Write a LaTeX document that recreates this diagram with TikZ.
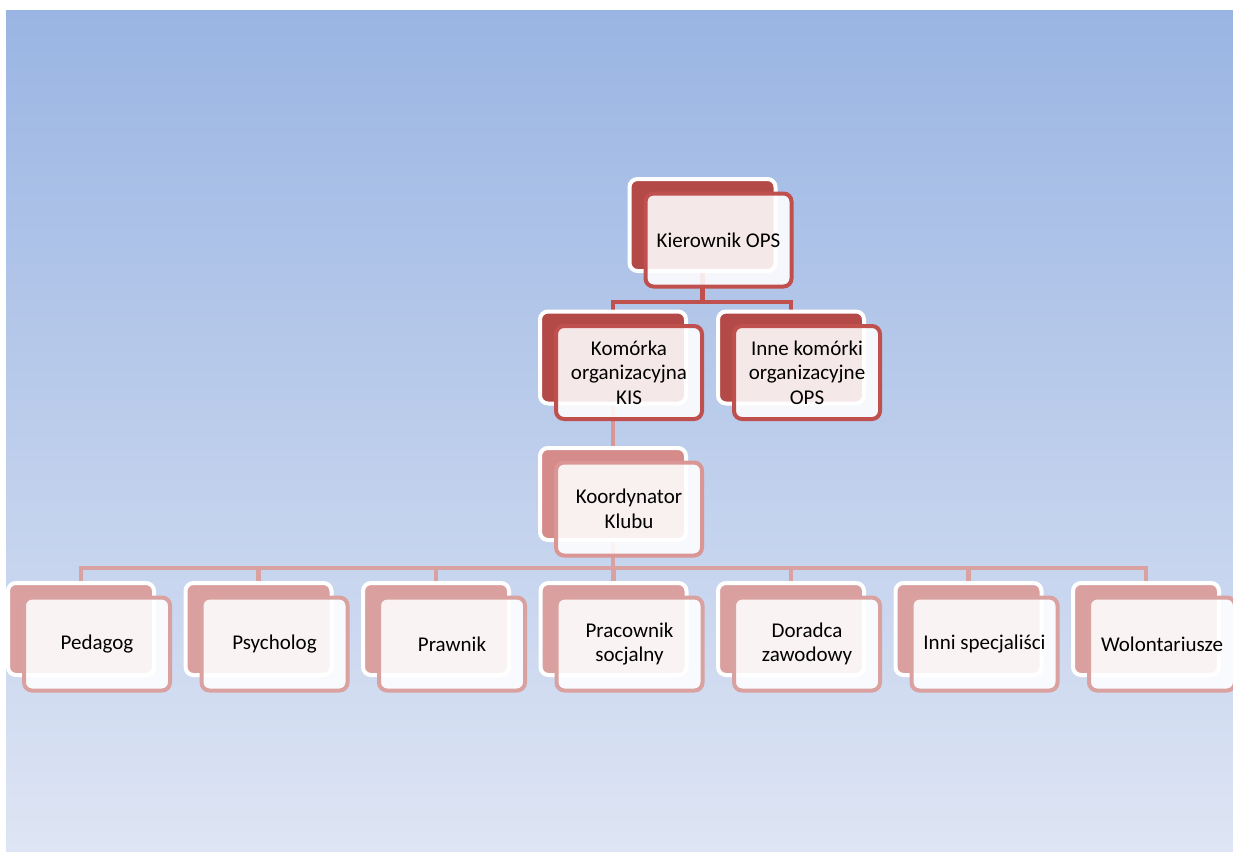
\documentclass[tikz,border=0pt]{standalone}
\usepackage{fontspec}
\setmainfont{Carlito}
\usetikzlibrary{calc}
\pgfdeclarelayer{bgl}
\pgfdeclarelayer{lines}
\pgfsetlayers{bgl,lines,main}
\definecolor{bgtop}{HTML}{9AB5E3}
\definecolor{bgbot}{HTML}{DEE5F4}
\definecolor{aback}{HTML}{B34A47}
\definecolor{aline}{HTML}{C0504D}
\definecolor{bback}{HTML}{D58B89}
\definecolor{bline}{HTML}{D99694}
\definecolor{cback}{HTML}{D9A09F}
\definecolor{cline}{HTML}{D9A1A0}
\tikzset{
  backbox/.style={rectangle, rounded corners=8pt, draw=white, line width=4pt,
    minimum width=146pt, minimum height=92pt, inner sep=0pt},
  frontbox/.style={rectangle, rounded corners=8pt, line width=4pt, fill=white,
    fill opacity=0.88, text opacity=1, minimum width=146pt, minimum height=93pt,
    inner sep=0pt, align=center,
    font=\fontsize{21}{24.5}\selectfont},
  conn/.style={line width=4.5pt}
}
\newcommand\orgbox[6]{%
  \node[backbox, fill=#4] (#1-b) at (#2,#3) {};
  \node[frontbox, draw=#5] (#1) at ([shift={(16,15)}]#1-b.center) {#6};
}
\begin{document}
\begin{tikzpicture}[x=1pt,y=-1pt]
\useasboundingbox (0,0) rectangle (1233,852);
\begin{pgfonlayer}{bgl}
\shade[top color=bgtop, bottom color=bgbot] (6,10) rectangle (1233,851);
\end{pgfonlayer}
% level 1
\orgbox{ker}{702.5}{225}{aback}{aline}{Kierownik OPS}
% level 2
\orgbox{kom}{613}{357.5}{aback}{aline}{Komórka\\organizacyjna\\KIS}
\orgbox{inne}{791}{357.5}{aback}{aline}{Inne komórki\\organizacyjne\\OPS}
% level 3
\orgbox{koo}{613}{494}{bback}{bline}{Koordynator\\Klubu}
% level 4
\orgbox{ped}{81}{629}{cback}{cline}{Pedagog}
\orgbox{psy}{258.5}{629}{cback}{cline}{Psycholog}
\orgbox{pra}{436}{629}{cback}{cline}{Prawnik}
\orgbox{soc}{613.5}{629}{cback}{cline}{Pracownik\\socjalny}
\orgbox{dor}{791}{629}{cback}{cline}{Doradca\\zawodowy}
\orgbox{ins}{968.5}{629}{cback}{cline}{Inni specjaliści}
\orgbox{wol}{1146}{629}{cback}{cline}{Wolontariusze}
\coordinate (j1) at (702.5,302);
\coordinate (j3) at (613,568);
\begin{pgfonlayer}{lines}
\draw[conn, aline] (ker-b.center) -- (j1);
\draw[conn, aline] (j1) -| (kom-b.center);
\draw[conn, aline] (j1) -| (inne-b.center);
\draw[conn, bline] (kom-b.center) -- (koo-b.center);
\foreach \n in {ped,psy,pra,soc,dor,ins,wol}{
  \draw[conn, cline] (koo-b.center) |- (j3) -| (\n-b.center);
}
\end{pgfonlayer}
\end{tikzpicture}
\end{document}
